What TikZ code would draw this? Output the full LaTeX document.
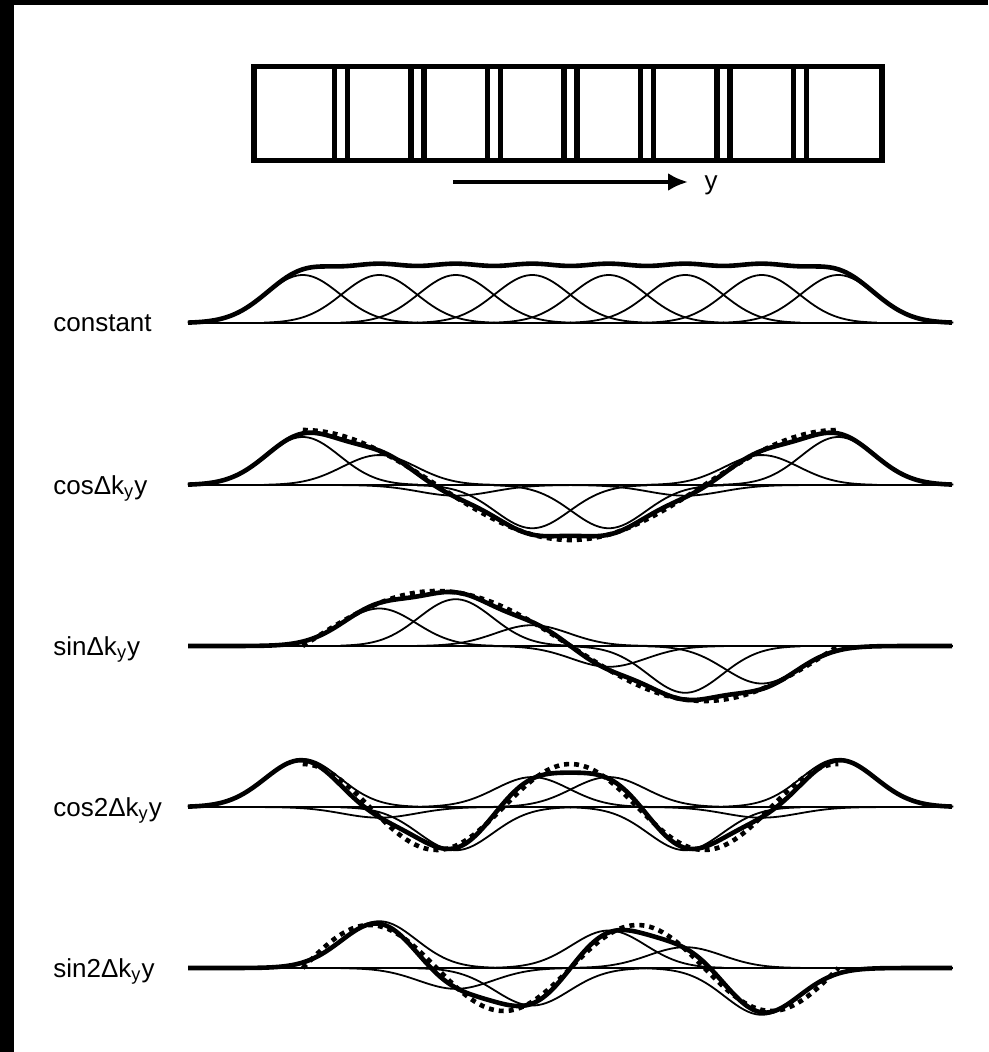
\documentclass[tikz,border=0pt]{standalone}
\usepackage{fontspec}
\setmainfont{Liberation Sans}
\usetikzlibrary{arrows.meta}

\begin{document}
\begin{tikzpicture}[x=0.5pt, y=-0.5pt,
    cellwall/.style={line width=2.7pt},
    thinbump/.style={line width=0.9pt},
    sumline/.style={line width=2.3pt, line join=round},
    idealline/.style={line width=2.3pt, dash pattern=on 2.5pt off 2.5pt},
    rowlabel/.style={anchor=base west, inner sep=0pt, font=\fontsize{13}{15}\selectfont},
    declare function={
      bump(\dd)=48*exp(-min(0.5*((\dd)/37)*((\dd)/37),12));
      wt(\nn,\fq,\sh)=cos(\fq*360*\nn/7-\sh);
      wsum(\xx,\fq,\sh)=wt(0,\fq,\sh)*bump(\xx-302.75)+wt(1,\fq,\sh)*bump(\xx-379.25)
        +wt(2,\fq,\sh)*bump(\xx-455.75)+wt(3,\fq,\sh)*bump(\xx-532.25)
        +wt(4,\fq,\sh)*bump(\xx-608.75)+wt(5,\fq,\sh)*bump(\xx-685.25)
        +wt(6,\fq,\sh)*bump(\xx-761.75)+wt(7,\fq,\sh)*bump(\xx-838.25);
    }]
    \useasboundingbox (0,0) rectangle (988,1052);
    \fill[white] (0,0) rectangle (988,1052);
    % black frame on the scan
    \fill[black] (0,0) rectangle (14,1052);
    \fill[black] (0,0) rectangle (988,5);

    % the row of cells
    \draw[cellwall] (254,66.5) rectangle (882,160.5);
    \foreach \k in {0,...,6} {
        \draw[cellwall] ({334.5+76.5*\k},66.5) -- ({334.5+76.5*\k},160.5);
        \draw[cellwall] ({347.5+76.5*\k},66.5) -- ({347.5+76.5*\k},160.5);
    }
    \coordinate (ystart) at (453,182);
    \coordinate (yend) at (688,182);
    \draw[line width=2.2pt, -{Latex[length=10pt,width=9pt]}] (ystart) -- (yend);
    \node[rowlabel, anchor=base] (ylab) at (711,190) {y};

    % rows: label, baseline, weighted bumps, their sum
    \foreach \ry/\mf/\pp/\amp/\txt [count=\r] in {323/0/0/0/constant,
        485/1/0/55/{cosΔk\textsubscript{y}y},
        646/1/90/55/{sinΔk\textsubscript{y}y},
        807/2/0/43/{cos2Δk\textsubscript{y}y},
        968/2/90/43/{sin2Δk\textsubscript{y}y}} {
        \node[rowlabel] (lab\r) at (53,{\ry+9}) {\txt};
        \coordinate (bl\r) at (188,\ry);
        \coordinate (br\r) at (952,\ry);
        \draw[line width=1.1pt] (bl\r) -- (br\r);
        \foreach \nn in {0,...,7} {
            \pgfmathsetmacro\da{302.75+76.5*\nn-115}
            \pgfmathsetmacro\db{302.75+76.5*\nn+115}
            \pgfmathsetmacro\wn{wt(\nn,\mf,\pp)}
            \draw[thinbump] plot[domain=\da:\db, samples=60]
                (\x,{\ry-\wn*bump(\x-302.75-76.5*\nn)});
        }
        \ifnum\r>1
            \pgfmathsetmacro\rate{\mf*360/535.5}
            \draw[idealline] plot[domain=302.75:838.25, samples=120]
                (\x,{\ry-\amp*cos(\rate*(\x-302.75)-\pp)});
        \fi
        \draw[sumline] plot[domain=188:952, samples=240]
            (\x,{\ry-wsum(\x,\mf,\pp)});
    }
\end{tikzpicture}
\end{document}
